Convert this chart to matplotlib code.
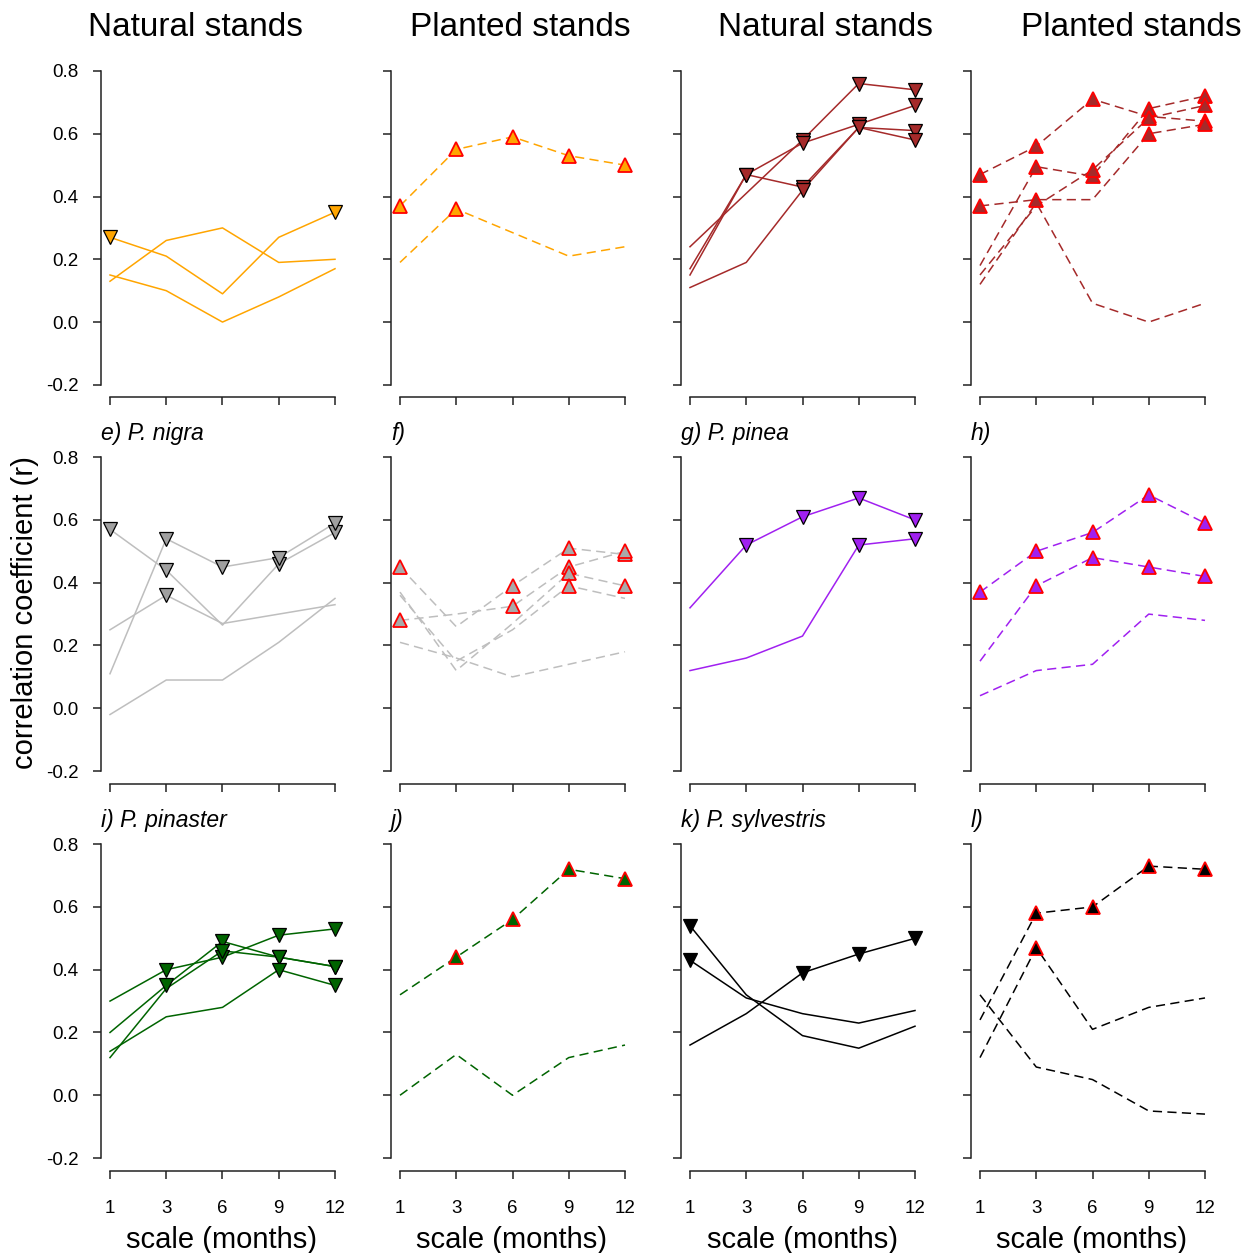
import numpy as np
import matplotlib.pyplot as plt

plt.rcParams['font.family'] = ['Liberation Sans', 'DejaVu Sans']

W, H = 1252, 1253
scales = ["1", "3", "6", "9", "12"]
pos = np.arange(1, 6)

# ---- row 1 ----
a_r = [[0.27, 0.21, 0.09, 0.27, 0.35],
       [0.13, 0.26, 0.30, 0.19, 0.20],
       [0.15, 0.10, 0.00, 0.08, 0.17]]
a_sig = [[1, 0, 0, 0, 1], [0, 0, 0, 0, 0], [0, 0, 0, 0, 0]]

b_r = [[0.37, 0.55, 0.59, 0.53, 0.50],
       [0.19, 0.36, 0.285, 0.21, 0.24]]
b_sig = [[1, 1, 1, 1, 1], [0, 1, 0, 0, 0]]

c_r = [[0.24, 0.41, 0.58, 0.76, 0.74],
       [0.17, 0.47, 0.57, 0.63, 0.69],
       [0.15, 0.47, 0.43, 0.62, 0.61],
       [0.11, 0.19, 0.42, 0.62, 0.58]]
c_sig = [[0, 0, 1, 1, 1], [0, 1, 1, 1, 1], [0, 1, 1, 1, 1], [0, 0, 1, 1, 1]]

d_r = [[0.47, 0.56, 0.71, 0.655, 0.64],
       [0.37, 0.39, 0.39, 0.60, 0.63],
       [0.18, 0.495, 0.465, 0.68, 0.72],
       [0.15, 0.37, 0.485, 0.65, 0.69],
       [0.12, 0.38, 0.06, 0.00, 0.06]]
d_sig = [[1, 1, 1, 1, 1], [1, 1, 0, 1, 1], [0, 1, 1, 1, 1],
         [0, 0, 1, 1, 1], [0, 0, 0, 0, 0]]

# ---- row 2 ----
e_r = [[0.57, 0.44, 0.265, 0.46, 0.56],
       [0.11, 0.54, 0.45, 0.48, 0.59],
       [0.25, 0.36, 0.27, 0.30, 0.33],
       [-0.02, 0.09, 0.09, 0.21, 0.35]]
e_sig = [[1, 1, 0, 1, 1], [0, 1, 1, 1, 1], [0, 1, 0, 0, 0], [0, 0, 0, 0, 0]]

f_r = [[0.45, 0.26, 0.39, 0.51, 0.49],
       [0.28, 0.30, 0.325, 0.45, 0.50],
       [0.37, 0.12, 0.27, 0.43, 0.39],
       [0.36, 0.15, 0.25, 0.39, 0.35],
       [0.21, 0.16, 0.10, 0.14, 0.18]]
f_sig = [[1, 0, 1, 1, 1], [1, 0, 1, 1, 1], [0, 0, 0, 1, 1],
         [0, 0, 0, 1, 0], [0, 0, 0, 0, 0]]

g_r = [[0.32, 0.52, 0.61, 0.67, 0.60],
       [0.12, 0.16, 0.23, 0.52, 0.54]]
g_sig = [[0, 1, 1, 1, 1], [0, 0, 0, 1, 1]]

h_r = [[0.37, 0.50, 0.56, 0.68, 0.59],
       [0.15, 0.39, 0.48, 0.45, 0.42],
       [0.04, 0.12, 0.14, 0.30, 0.28]]
h_sig = [[1, 1, 1, 1, 1], [0, 1, 1, 1, 1], [0, 0, 0, 0, 0]]

# ---- row 3 ----
i_r = [[0.30, 0.40, 0.44, 0.51, 0.53],
       [0.20, 0.35, 0.49, 0.44, 0.41],
       [0.12, 0.34, 0.46, 0.44, 0.41],
       [0.14, 0.25, 0.28, 0.40, 0.35]]
i_sig = [[0, 1, 1, 1, 1], [0, 1, 1, 1, 1], [0, 0, 1, 1, 1], [0, 0, 0, 1, 1]]

j_r = [[0.32, 0.44, 0.56, 0.72, 0.69],
       [0.00, 0.13, 0.00, 0.12, 0.16]]
j_sig = [[0, 1, 1, 1, 1], [0, 0, 0, 0, 0]]

k_r = [[0.54, 0.32, 0.19, 0.15, 0.22],
       [0.43, 0.31, 0.26, 0.23, 0.27],
       [0.16, 0.26, 0.39, 0.45, 0.50]]
k_sig = [[1, 0, 0, 0, 0], [1, 0, 0, 0, 0], [0, 0, 1, 1, 1]]

l_r = [[0.24, 0.58, 0.60, 0.73, 0.72],
       [0.12, 0.47, 0.21, 0.28, 0.31],
       [0.32, 0.09, 0.05, -0.05, -0.06]]
l_sig = [[0, 1, 1, 1, 1], [0, 1, 0, 0, 0], [0, 0, 0, 0, 0]]

panels = [
    # (data, sig, line colour, marker fill, planted?, label)
    (a_r, a_sig, "#FFA500", "#FFA500", False, None),
    (b_r, b_sig, "#FFA500", "#FFA500", True, None),
    (c_r, c_sig, "#A52A2A", "#A52A2A", False, None),
    (d_r, d_sig, "#A52A2A", "#A52A2A", True, None),
    (e_r, e_sig, "#BEBEBE", "#A0A0A0", False, "e) P. nigra"),
    (f_r, f_sig, "#BEBEBE", "#A9A9A9", True, "f)"),
    (g_r, g_sig, "#A020F0", "#A020F0", False, "g) P. pinea"),
    (h_r, h_sig, "#A020F0", "#A020F0", True, "h)"),
    (i_r, i_sig, "#006400", "#006400", False, "i) P. pinaster"),
    (j_r, j_sig, "#006400", "#006400", True, "j)"),
    (k_r, k_sig, "black", "black", False, "k) P. sylvestris"),
    (l_r, l_sig, "black", "black", True, "l)"),
]

col_left = [101, 391, 681, 971]
row_top = [58.4, 444.6, 831.6]
ax_w, ax_h = 243, 339

fig = plt.figure(figsize=(W / 100, H / 100), dpi=100)

for n, (data, sig, col, fill, planted, label) in enumerate(panels):
    r, c = divmod(n, 4)
    ax = fig.add_axes([col_left[c] / W, 1 - (row_top[r] + ax_h) / H,
                       ax_w / W, ax_h / H])
    for vals, s in zip(data, sig):
        vals = np.array(vals)
        s = np.array(s, dtype=bool)
        if planted:
            ax.plot(pos, vals, color=col, lw=1.1, dashes=(6, 3.5), zorder=2)
            ax.plot(pos[s], vals[s], ls="none", marker="^", ms=9.5,
                    mfc=fill, mec="red", mew=1.3, zorder=3)
        else:
            ax.plot(pos, vals, color=col, lw=1.1, zorder=2)
            ax.plot(pos[s], vals[s], ls="none", marker="v", ms=9.5,
                    mfc=fill, mec="black", mew=0.9, zorder=3)

    ax.set_xlim(0.84, 5.16)
    ax.set_ylim(-0.24, 0.84)
    for side in ("top", "right"):
        ax.spines[side].set_visible(False)
    ax.spines["left"].set_bounds(-0.2, 0.8)
    ax.spines["bottom"].set_bounds(1, 5)
    for side in ("left", "bottom"):
        ax.spines[side].set_linewidth(1.1)
        ax.spines[side].set_color("#222222")
    ax.set_xticks(pos)
    ax.set_yticks([-0.2, 0.0, 0.2, 0.4, 0.6, 0.8])
    ax.tick_params(axis="both", length=6, width=1.1, color="#222222",
                   labelsize=13.5)
    ax.tick_params(axis="y", pad=10)
    ax.tick_params(axis="x", pad=15)
    if r == 2:
        ax.set_xticklabels(scales)
    else:
        ax.set_xticklabels([])
    if c == 0:
        ax.set_yticklabels(["-0.2", "0.0", "0.2", "0.4", "0.6", "0.8"])
    else:
        ax.set_yticklabels([])
    if label:
        ax.text(0.0, 1.0, label, transform=ax.transAxes, ha="left",
                va="bottom", fontsize=16.5, style="italic")

title_x = [195, 520, 825, 1131]
titles = ["Natural stands", "Planted stands", "Natural stands", "Planted stands"]
for x, t in zip(title_x, titles):
    fig.text(x / W, 1 - 27 / H, t, ha="center", va="center", fontsize=24)

for c in range(4):
    fig.text((col_left[c] + 121) / W, 1 - 1240 / H, "scale (months)",
             ha="center", va="center", fontsize=21)

fig.text(25 / W, 1 - 613 / H, "correlation coefficient (r)", rotation=90,
         ha="center", va="center", fontsize=21)

fig.savefig("out.png", dpi=100)
